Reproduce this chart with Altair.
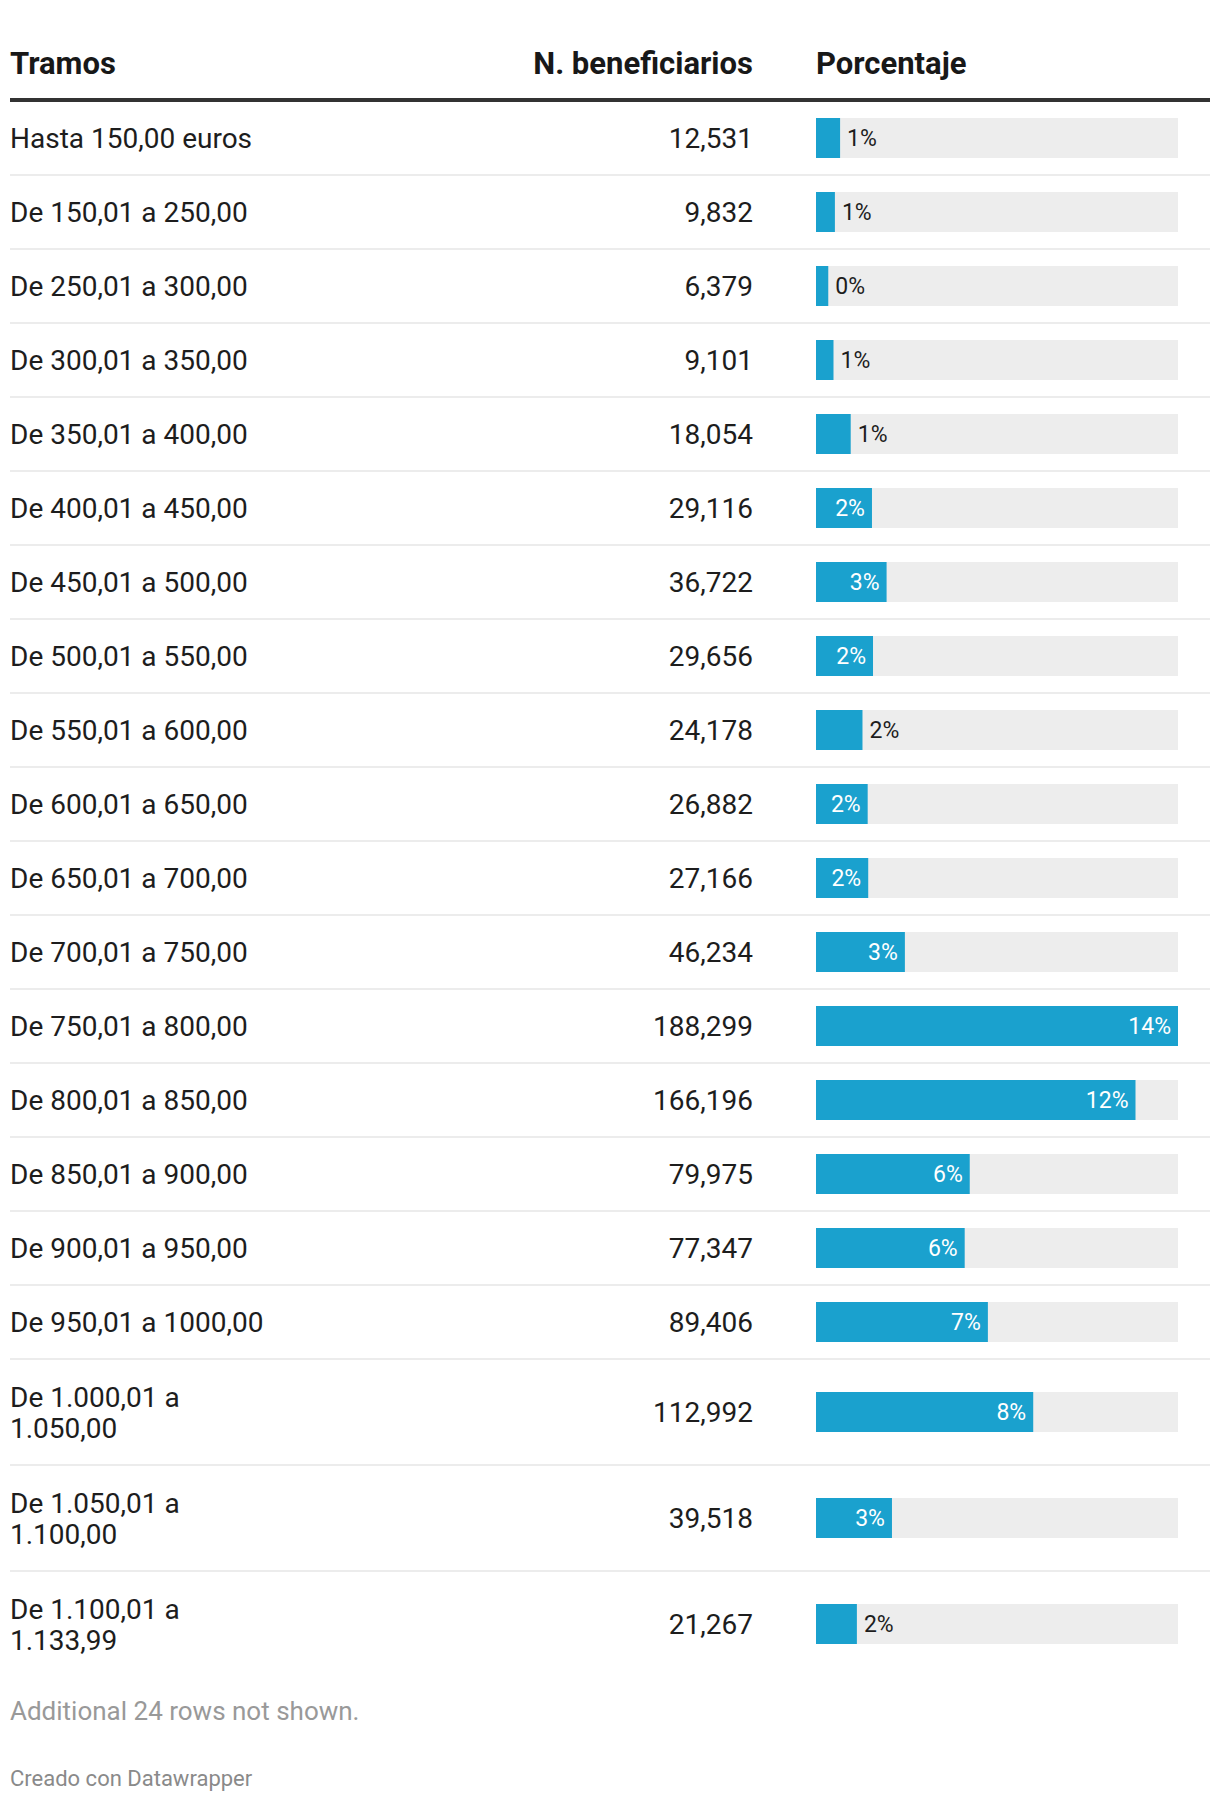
import altair as alt
import pandas as pd

tramos = [
    "Hasta 150,00 euros",
    "De 150,01 a 250,00",
    "De 250,01 a 300,00",
    "De 300,01 a 350,00",
    "De 350,01 a 400,00",
    "De 400,01 a 450,00",
    "De 450,01 a 500,00",
    "De 500,01 a 550,00",
    "De 550,01 a 600,00",
    "De 600,01 a 650,00",
    "De 650,01 a 700,00",
    "De 700,01 a 750,00",
    "De 750,01 a 800,00",
    "De 800,01 a 850,00",
    "De 850,01 a 900,00",
    "De 900,01 a 950,00",
    "De 950,01 a 1000,00",
    "De 1.000,01 a\n1.050,00",
    "De 1.050,01 a\n1.100,00",
    "De 1.100,01 a\n1.133,99",
]
beneficiarios = [12531, 9832, 6379, 9101, 18054, 29116, 36722, 29656, 24178, 26882,
                 27166, 46234, 188299, 166196, 79975, 77347, 89406, 112992, 39518, 21267]
porcentaje = ["1%", "1%", "0%", "1%", "1%", "2%", "3%", "2%", "2%", "2%",
              "2%", "3%", "14%", "12%", "6%", "6%", "7%", "8%", "3%", "2%"]

headers = ["Tramos", "N. beneficiarios", "Porcentaje"]
nota = "Additional 24 rows not shown."
credito = "Creado con Datawrapper"

# ---- layout (chart pixel coordinates) ----
W, H = 1204, 1786
LEFT, RIGHT = 2, 1202
NUM_RIGHT = 745
BAR_X0, BAR_X1 = 808, 1170
HEADER_BOTTOM = 94
ONE_LINE, TWO_LINE, BORDER = 72, 104, 2
BAR_H = 40
LINE_H = 31
BODY_FS, HEAD_FS, PCT_FS = 28, 31, 23
FONT = "Roboto"
BLUE, TRACK = "#1aa1ce", "#ededed"
TEXT = "#1d1d1d"

vmax = max(beneficiarios)
rows = []
top = HEADER_BOTTOM
for i, (t, n, p) in enumerate(zip(tramos, beneficiarios, porcentaje)):
    nlines = t.count("\n") + 1
    content = TWO_LINE if nlines > 1 else ONE_LINE
    yc = top + content / 2
    bar_px = n / vmax * (BAR_X1 - BAR_X0)
    rows.append(dict(tramo=t, n=n, pct=p, yc=yc, ty=yc - (nlines - 1) * LINE_H / 2,
                     y0=yc - BAR_H / 2, y1=yc + BAR_H / 2,
                     sep=top + content + BORDER / 2, last=(i == len(tramos) - 1),
                     inside=bar_px > 49, zero=0, vmax=vmax))
    top += content + BORDER
df = pd.DataFrame(rows)

ys = alt.Scale(domain=[0, H], range=[0, H], nice=False, zero=False)
xs = alt.Scale(domain=[0, vmax], range=[BAR_X0, BAR_X1], nice=False, zero=True)

base = alt.Chart(df)

track = base.mark_rect(color=TRACK).encode(
    x=alt.X("zero:Q", scale=xs, axis=None), x2="vmax:Q",
    y=alt.Y("y0:Q", scale=ys, axis=None), y2="y1:Q")
bars = base.mark_rect(color=BLUE).encode(
    x=alt.X("zero:Q", scale=xs, axis=None), x2="n:Q",
    y=alt.Y("y0:Q", scale=ys, axis=None), y2="y1:Q")
lab_in = base.transform_filter("datum.inside").mark_text(
    align="right", baseline="middle", dx=-7, dy=1, color="white",
    font=FONT, fontSize=PCT_FS).encode(
    x=alt.X("n:Q", scale=xs, axis=None), y=alt.Y("yc:Q", scale=ys, axis=None), text="pct:N")
lab_out = base.transform_filter("!datum.inside").mark_text(
    align="left", baseline="middle", dx=7, dy=1, color=TEXT,
    font=FONT, fontSize=PCT_FS).encode(
    x=alt.X("n:Q", scale=xs, axis=None), y=alt.Y("yc:Q", scale=ys, axis=None), text="pct:N")

seps = alt.Chart(df[~df["last"]]).mark_rule(color="#ececec", strokeWidth=2).encode(
    x=alt.value(LEFT), x2=alt.value(RIGHT), y=alt.Y("sep:Q", scale=ys, axis=None))

names = base.mark_text(align="left", baseline="middle", dy=2, lineBreak="\n", lineHeight=LINE_H,
                       font=FONT, fontSize=BODY_FS, color=TEXT).encode(
    x=alt.value(LEFT), y=alt.Y("ty:Q", scale=ys, axis=None), text="tramo:N")
nums = base.mark_text(align="right", baseline="middle", dy=2,
                      font=FONT, fontSize=BODY_FS, color=TEXT).encode(
    x=alt.value(NUM_RIGHT), y=alt.Y("yc:Q", scale=ys, axis=None),
    text=alt.Text("n:Q", format=","))

def single_text(s, x, y, align, fs, color, weight="normal"):
    return alt.Chart(pd.DataFrame({"t": [s]})).mark_text(
        align=align, baseline="alphabetic", font=FONT, fontSize=fs,
        fontWeight=weight, color=color).encode(
        x=alt.value(x), y=alt.value(y), text="t:N")

h1 = single_text(headers[0], LEFT, 66, "left", HEAD_FS, "#181818", "bold")
h2 = single_text(headers[1], NUM_RIGHT, 66, "right", HEAD_FS, "#181818", "bold")
h3 = single_text(headers[2], BAR_X0, 66, "left", HEAD_FS, "#181818", "bold")
head_line = alt.Chart(pd.DataFrame({"t": [0]})).mark_rule(color="#333333", strokeWidth=4).encode(
    x=alt.value(LEFT), x2=alt.value(RIGHT), y=alt.value(92))
foot1 = single_text(nota, LEFT, 1712, "left", 26, "#999999")
foot2 = single_text(credito, LEFT, 1778, "left", 22, "#8a8a8a")

chart = alt.layer(
    seps, head_line, track, bars, lab_in, lab_out, names, nums, h1, h2, h3, foot1, foot2
).properties(
    width=W, height=H, padding=0, autosize=alt.AutoSizeParams(type="none"),
    background="white"
).configure_view(stroke=None)

chart.save("out.html", embed_options={"renderer": "svg", "actions": False})
